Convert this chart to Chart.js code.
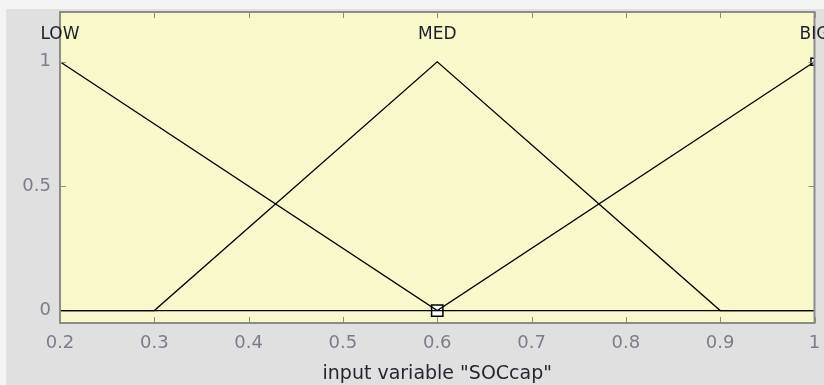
<!DOCTYPE html>
<html>
<head>
<meta charset="utf-8">
<script src="https://cdn.jsdelivr.net/npm/chart.js@4/dist/chart.umd.min.js"></script>
<style>
  body { margin: 0; background: #f4f4f4; }
  canvas { display: block; }
</style>
</head>
<body>
<canvas id="mfChart" width="824" height="385"></canvas>
<script>
// membership functions of the SOCcap input
var mfNames = ['LOW', 'MED', 'BIG'];
var mfPeaks = [0.2, 0.6, 1];

var lowX = [0.2, 0.6, 1];
var lowY = [1, 0, 0];
var medX = [0.2, 0.3, 0.6, 0.9, 1];
var medY = [0, 0, 1, 0, 0];
var bigX = [0.2, 0.6, 1];
var bigY = [0, 0, 1];

// selected vertex handles
var markX = [0.6, 1];
var markY = [0, 1];

var xTicks = [0.2, 0.3, 0.4, 0.5, 0.6, 0.7, 0.8, 0.9, 1];
var yTicks = [0, 0.5, 1];

function toPoints(xs, ys) {
    return xs.map(function(x, i) { return { x: x, y: ys[i] }; });
}

function mfLine(xs, ys) {
    return {
        data: toPoints(xs, ys),
        showLine: true,
        borderColor: '#000',
        borderWidth: 1.3,
        pointRadius: 0,
        tension: 0
    };
}

// yellow axes box, frame with inward ticks, MF names
var fisAxes = {
    id: 'fisAxes',
    beforeDraw: function(chart) {
        var ctx = chart.ctx, a = chart.chartArea;
        ctx.save();
        ctx.fillStyle = '#e0e0e0';
        ctx.fillRect(6, 9, chart.width - 6, chart.height - 9);
        ctx.fillStyle = '#f9f8cb';
        ctx.fillRect(a.left, a.top, a.right - a.left, a.bottom - a.top);
        ctx.restore();
    },
    afterDatasetsDraw: function(chart) {
        var ctx = chart.ctx, a = chart.chartArea;
        var xs = chart.scales.x, ys = chart.scales.y;
        ctx.save();
        ctx.strokeStyle = '#8c8c8c';
        ctx.lineWidth = 1;
        ctx.beginPath();
        xTicks.forEach(function(v) {
            var px = Math.round(xs.getPixelForValue(v)) + 0.5;
            ctx.moveTo(px, a.bottom); ctx.lineTo(px, a.bottom - 6);
            ctx.moveTo(px, a.top); ctx.lineTo(px, a.top + 6);
        });
        yTicks.forEach(function(v) {
            var py = Math.round(ys.getPixelForValue(v)) + 0.5;
            ctx.moveTo(a.left, py); ctx.lineTo(a.left + 6, py);
            ctx.moveTo(a.right, py); ctx.lineTo(a.right - 6, py);
        });
        ctx.stroke();
        ctx.lineWidth = 2;
        ctx.strokeRect(a.left, a.top, a.right - a.left, a.bottom - a.top);

        ctx.fillStyle = '#1e1e28';
        ctx.font = '17px "DejaVu Sans"';
        ctx.textAlign = 'center';
        ctx.textBaseline = 'middle';
        mfNames.forEach(function(name, i) {
            ctx.fillText(name, xs.getPixelForValue(mfPeaks[i]), ys.getPixelForValue(1.108));
        });
        ctx.restore();
    }
};

var chart = new Chart(document.getElementById('mfChart'), {
    type: 'scatter',
    data: {
        datasets: [
            mfLine(lowX, lowY),
            mfLine(medX, medY),
            mfLine(bigX, bigY),
            {
                data: toPoints(markX, markY),
                pointStyle: 'rect',
                pointRadius: [8, 5],
                pointBorderColor: '#000',
                pointBackgroundColor: '#fff',
                pointBorderWidth: 1.5
            }
        ]
    },
    options: {
        responsive: false,
        animation: false,
        layout: { padding: { left: 0, right: 9, top: 12, bottom: 0 } },
        plugins: {
            legend: { display: false },
            tooltip: { enabled: false }
        },
        scales: {
            x: {
                type: 'linear',
                min: 0.2,
                max: 1,
                afterBuildTicks: function(scale) {
                    scale.ticks = xTicks.map(function(v) { return { value: v }; });
                },
                afterFit: function(scale) {
                    scale.height = 62;
                    scale.paddingLeft = 0;
                    scale.paddingRight = 0;
                },
                grid: { display: false, drawTicks: false },
                border: { display: false },
                ticks: {
                    autoSkip: false,
                    maxRotation: 0,
                    padding: 10,
                    color: '#7b7d8c',
                    font: { family: 'DejaVu Sans', size: 18 },
                    callback: function(value) { return String(value); }
                },
                title: {
                    display: true,
                    text: 'input variable "SOCcap"',
                    color: '#262633',
                    padding: { top: 0, bottom: 0 },
                    font: { family: 'DejaVu Sans', size: 19 }
                }
            },
            y: {
                type: 'linear',
                min: -0.05,
                max: 1.2,
                afterBuildTicks: function(scale) {
                    scale.ticks = yTicks.map(function(v) { return { value: v }; });
                },
                afterFit: function(scale) {
                    scale.width = 60;
                    scale.paddingTop = 0;
                    scale.paddingBottom = 0;
                },
                grid: { display: false, drawTicks: false },
                border: { display: false },
                ticks: {
                    padding: 9,
                    color: '#7b7d8c',
                    font: { family: 'DejaVu Sans', size: 18 },
                    callback: function(value) { return String(value); }
                }
            }
        }
    },
    plugins: [fisAxes]
});
</script>
</body>
</html>
